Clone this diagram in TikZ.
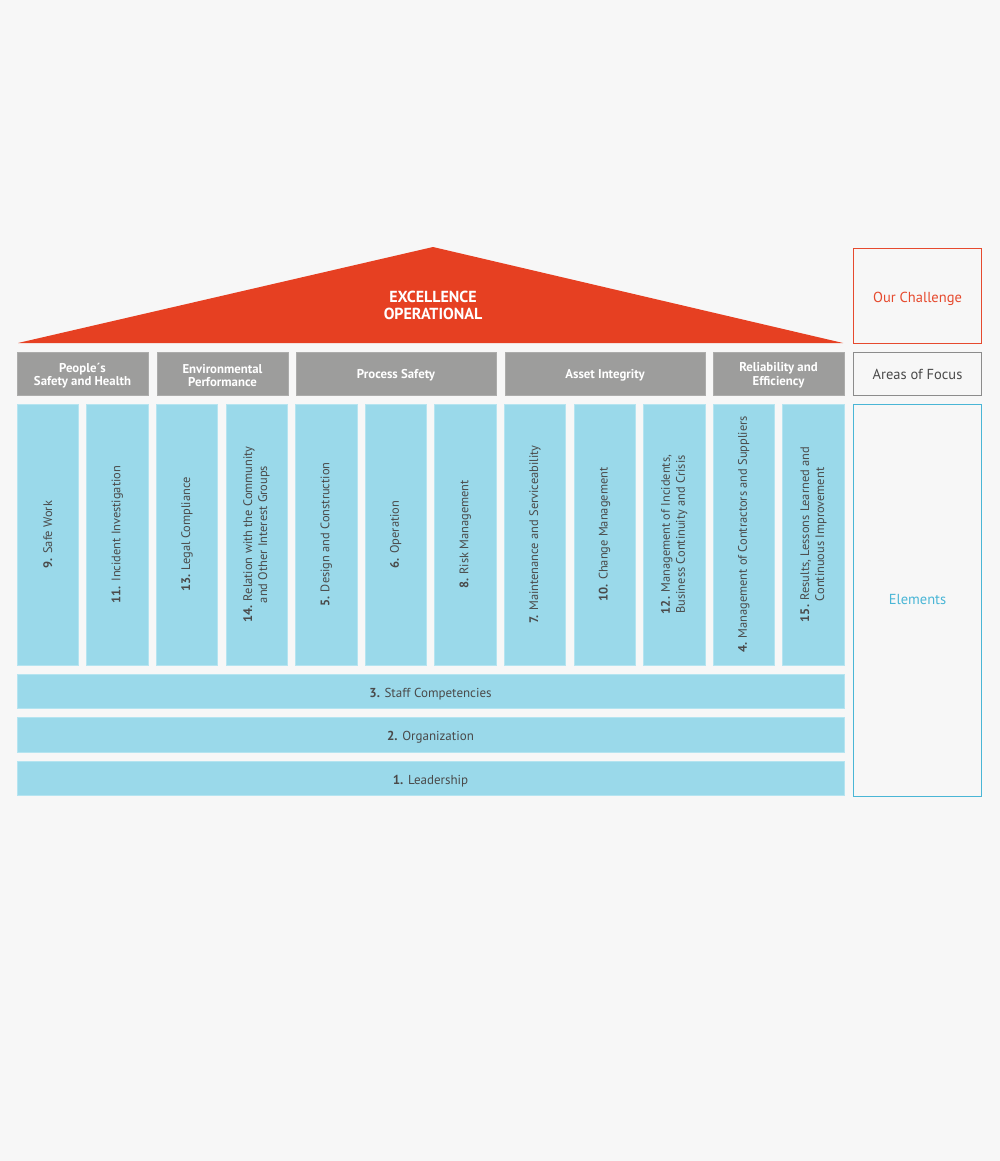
\documentclass[tikz,border=0pt]{standalone}
\usepackage{fontspec}
\setmainfont{PT Sans}
\definecolor{bgc}{HTML}{F7F7F7}
\definecolor{roofred}{HTML}{E64022}
\definecolor{hdrgrey}{HTML}{9D9D9C}
\definecolor{pillar}{HTML}{9AD9EA}
\definecolor{pillaredge}{HTML}{B5E4F0}
\definecolor{txtdark}{HTML}{4A4A4A}
\definecolor{lblred}{HTML}{E64A2E}
\definecolor{lblgrey}{HTML}{8C8C8C}
\definecolor{lblblue}{HTML}{4AB6D6}
\begin{document}
\begin{tikzpicture}[x=1pt,y=-1pt,
  hdr/.style={fill=hdrgrey, draw=hdrgrey!85!white, line width=0.6pt, inner sep=0pt, minimum height=43pt},
  hdrtxt/.style={text=white, font=\fontsize{12.8}{13.5}\selectfont\bfseries, align=center, inner sep=0pt},
  colbox/.style={fill=pillar, draw=pillaredge, line width=0.6pt, text=txtdark, font=\fontsize{12.4}{15}\selectfont, align=center, rotate=90, inner sep=0pt, minimum width=261pt, minimum height=61.5pt},
  bar/.style={fill=pillar, draw=pillaredge, line width=0.6pt, inner sep=0pt, minimum width=827pt, minimum height=34.5pt},
  bartxt/.style={text=txtdark, font=\fontsize{13}{15}\selectfont, inner sep=0pt},
  sidebox/.style={fill=bgc, line width=1pt, inner sep=0pt, minimum width=128pt},
  sidetxt/.style={inner sep=0pt, font=\fontsize{14.5}{16}\selectfont}
]
\fill[bgc] (0,0) rectangle (1000,1161);
\useasboundingbox (0,0) rectangle (1000,1161);

% roof
\fill[roofred] (18,343) -- (433,247) -- (843,343) -- cycle;
\node[text=white, font=\fontsize{16}{17.5}\selectfont\bfseries, align=center, inner sep=0pt] (title) at (433,305.5) {EXCELLENCE\\OPERATIONAL};

% areas of focus
\node[hdr, minimum width=131pt] (h1) at (82.5,373.5) {};
\node[hdr, minimum width=131pt] (h2) at (222.5,373.5) {};
\node[hdr, minimum width=200pt] (h3) at (396,373.5) {};
\node[hdr, minimum width=200pt] (h4) at (605,373.5) {};
\node[hdr, minimum width=131pt] (h5) at (778.5,373.5) {};
\node[hdrtxt] (h1t) at ([yshift=-2pt]h1.center) {People´s\\Safety and Health};
\node[hdrtxt] (h2t) at ([yshift=-2pt]h2.center) {Environmental\\Performance};
\node[hdrtxt] (h3t) at ([yshift=-2pt]h3.center) {Process Safety};
\node[hdrtxt] (h4t) at ([yshift=-2pt]h4.center) {Asset Integrity};
\node[hdrtxt] (h5t) at ([yshift=-2pt]h5.center) {Reliability and\\Efficiency};

% elements columns
\node[colbox] (c9)  at (47.75,534.5)  {\textbf{9.} Safe Work};
\node[colbox] (c11) at (117.35,534.5) {\textbf{11.} Incident Investigation};
\node[colbox] (c13) at (186.95,534.5) {\textbf{13.} Legal Compliance};
\node[colbox] (c14) at (256.55,534.5) {\textbf{14.} Relation with the Community\\and Other Interest Groups};
\node[colbox] (c5)  at (326.15,534.5) {\textbf{5.} Design and Construction};
\node[colbox] (c6)  at (395.75,534.5) {\textbf{6.} Operation};
\node[colbox] (c8)  at (465.35,534.5) {\textbf{8.} Risk Management};
\node[colbox] (c7)  at (534.95,534.5) {\textbf{7.} Maintenance and Serviceability};
\node[colbox] (c10) at (604.55,534.5) {\textbf{10.} Change Management};
\node[colbox] (c12) at (674.15,534.5) {\textbf{12.} Management of Incidents,\\Business Continuity and Crisis};
\node[colbox] (c4)  at (743.75,534.5) {\textbf{4.} Management of Contractors and Suppliers};
\node[colbox] (c15) at (813.35,534.5) {\textbf{15.} Results, Lessons Learned and\\Continuous Improvement};

% foundation bars
\node[bar] (b3) at (430.5,691.5) {};
\node[bar] (b2) at (430.5,735)   {};
\node[bar] (b1) at (430.5,778.5) {};
\node[bartxt] (b3t) at ([yshift=-2.5pt]b3.center) {\textbf{3.} Staff Competencies};
\node[bartxt] (b2t) at ([yshift=-2.5pt]b2.center) {\textbf{2.} Organization};
\node[bartxt] (b1t) at ([yshift=-2.5pt]b1.center) {\textbf{1.} Leadership};

% side legend
\node[sidebox, draw=lblred, minimum height=95pt] (s1) at (917.5,295.5) {};
\node[sidebox, draw=lblgrey, minimum height=43pt] (s2) at (917.5,373.5) {};
\node[sidebox, draw=lblblue, minimum height=392pt] (s3) at (917.5,600) {};
\node[sidetxt, text=lblred] (s1t) at ([yshift=-3pt]s1.center) {Our Challenge};
\node[sidetxt, text=txtdark] (s2t) at ([yshift=-1pt]s2.center) {Areas of Focus};
\node[sidetxt, text=lblblue] (s3t) at (s3.center) {Elements};
\end{tikzpicture}
\end{document}
